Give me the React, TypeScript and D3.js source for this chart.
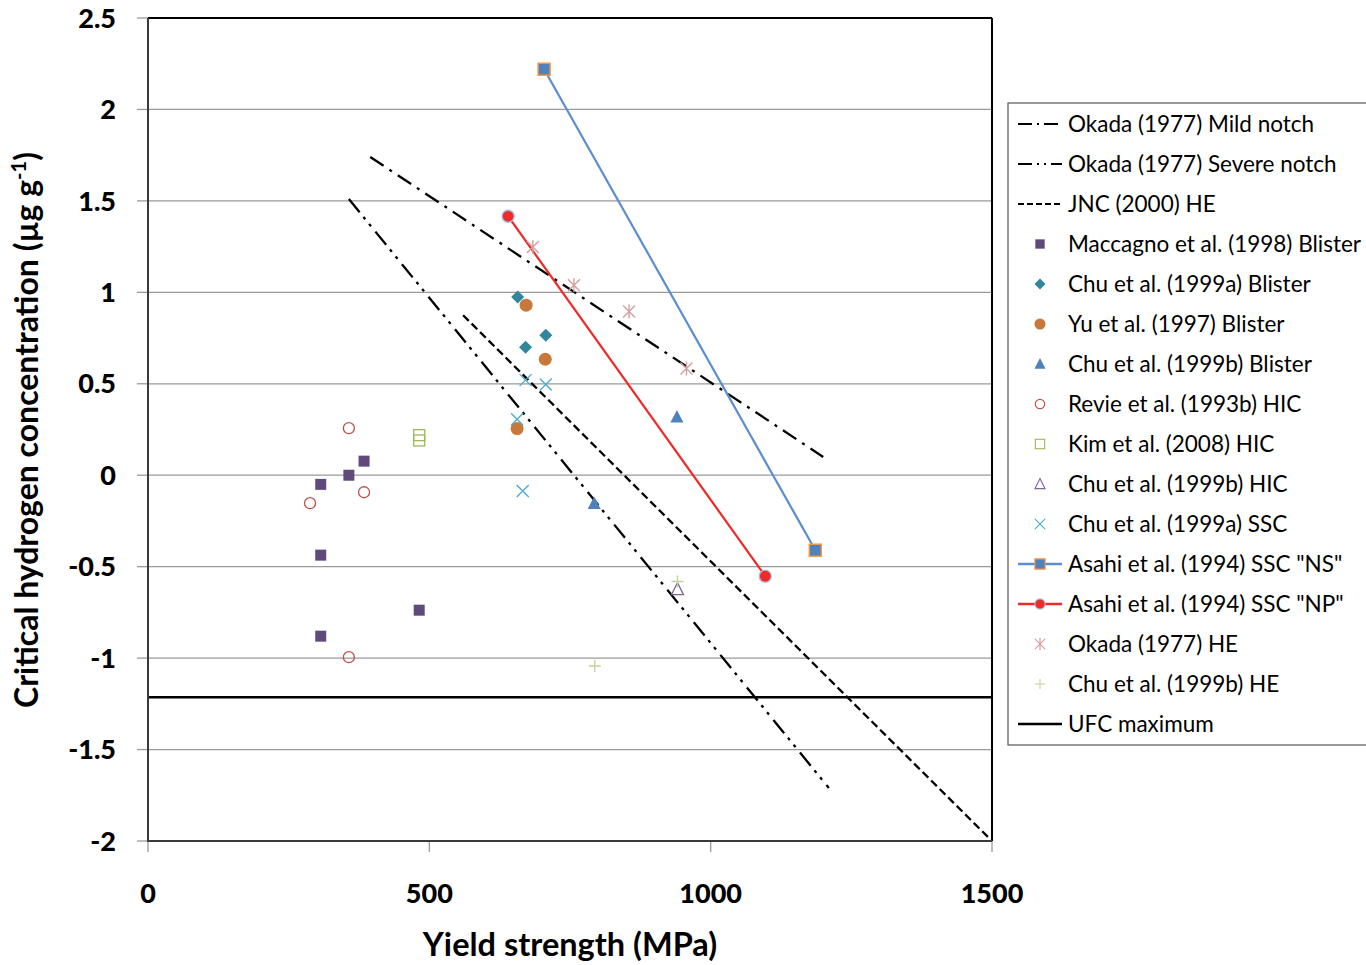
import React from "react";
import * as d3 from "d3";

const W = 1366, H = 965;
const M = { left: 148, top: 18, right: 992, bottom: 841 };

const xTicks = [0, 500, 1000, 1500];
const yTicks = [2.5, 2, 1.5, 1, 0.5, 0, -0.5, -1, -1.5, -2];

const mildNotch: [number, number][] = [[395, 1.74], [1200, 0.10]];
const severeNotch: [number, number][] = [[357, 1.51], [1210, -1.71]];
const jncHE: [number, number][] = [[560, 0.875], [1500, -2.0]];
const ufcMax = -1.214;

const maccagno: [number, number][] = [[307, -0.05], [357, 0.0], [384, 0.077], [307, -0.437], [307, -0.88], [482, -0.738]];
const chuABlister: [number, number][] = [[657, 0.975], [671, 0.70], [707, 0.765]];
const yuBlister: [number, number][] = [[672, 0.93], [706, 0.634], [656, 0.255]];
const chuBBlister: [number, number][] = [[940, 0.319], [793, -0.155]];
const revieHIC: [number, number][] = [[357, 0.257], [288, -0.153], [384, -0.093], [357, -0.995]];
const kimHIC: [number, number][] = [[482, 0.219], [482, 0.19]];
const chuBHIC: [number, number][] = [[941, -0.623]];
const chuASSC: [number, number][] = [[671, 0.52], [707, 0.496], [656, 0.306], [666, -0.086]];
const asahiNS: [number, number][] = [[704, 2.22], [1186, -0.41]];
const asahiNP: [number, number][] = [[640, 1.416], [1097, -0.552]];
const okadaHE: [number, number][] = [[684, 1.248], [757, 1.039], [855, 0.895], [957, 0.583]];
const chuBHE: [number, number][] = [[941, -0.581], [794, -1.043]];

const legendLabels = [
  "Okada (1977) Mild notch",
  "Okada (1977) Severe notch",
  "JNC (2000) HE",
  "Maccagno et al. (1998) Blister",
  "Chu et al. (1999a) Blister",
  "Yu et al. (1997) Blister",
  "Chu et al. (1999b) Blister",
  "Revie et al. (1993b) HIC",
  "Kim et al. (2008) HIC",
  "Chu et al. (1999b) HIC",
  "Chu et al. (1999a) SSC",
  "Asahi et al. (1994) SSC \"NS\"",
  "Asahi et al. (1994) SSC \"NP\"",
  "Okada (1977) HE",
  "Chu et al. (1999b) HE",
  "UFC maximum",
];

const C = {
  purple: "#604A7B",
  teal: "#31859C",
  orange: "#C8783A",
  blue: "#4F81BD",
  red: "#C0504D",
  green: "#9BBB59",
  violet: "#8064A2",
  aqua: "#4BACC6",
  nsLine: "#5A8ED0",
  nsEdge: "#F79646",
  npLine: "#F02828",
  pink: "#D4A0A0",
  lgreen: "#BFD49A",
};

const x = d3.scaleLinear().domain([0, 1500]).range([M.left, M.right]);
const y = d3.scaleLinear().domain([-2, 2.5]).range([M.bottom, M.top]);
const line = d3.line<[number, number]>().x(d => x(d[0])).y(d => y(d[1]));

const FONT = "Lato, 'Noto Sans', sans-serif";

type Kind = "square" | "diamond" | "circle" | "triangle" | "ocircle" | "osquare" | "otriangle" | "cross" | "asterisk" | "plus" | "nsq" | "npc";

function Marker({ kind, cx, cy, s = 1 }: { kind: Kind; cx: number; cy: number; s?: number }) {
  const t = `translate(${cx},${cy}) scale(${s})`;
  switch (kind) {
    case "square":
      return <rect transform={t} x={-5.5} y={-5.5} width={11} height={11} fill={C.purple} />;
    case "diamond":
      return <path transform={t} d="M0,-6.5L6.5,0L0,6.5L-6.5,0Z" fill={C.teal} />;
    case "circle":
      return <circle transform={t} r={6.5} fill={C.orange} />;
    case "triangle":
      return <path transform={t} d="M0,-7L6.5,5.5L-6.5,5.5Z" fill={C.blue} />;
    case "ocircle":
      return <circle transform={t} r={5.5} fill="none" stroke={C.red} strokeWidth={1.3} />;
    case "osquare":
      return <rect transform={t} x={-5.5} y={-5.5} width={11} height={11} fill="none" stroke={C.green} strokeWidth={1.3} />;
    case "otriangle":
      return <path transform={t} d="M0,-6.5L6,5.5L-6,5.5Z" fill="none" stroke={C.violet} strokeWidth={1.3} />;
    case "cross":
      return <path transform={t} d="M-6,-6L6,6M6,-6L-6,6" stroke={C.aqua} strokeWidth={1.3} />;
    case "asterisk":
      return <path transform={t} d="M-6,-6L6,6M6,-6L-6,6M0,-7L0,7" stroke={C.pink} strokeWidth={1.4} />;
    case "plus":
      return <path transform={t} d="M-6,0L6,0M0,-6L0,6" stroke={C.lgreen} strokeWidth={1.3} />;
    case "nsq":
      return <rect transform={t} x={-6} y={-6} width={12} height={12} fill={C.blue} stroke={C.nsEdge} strokeWidth={1.5} />;
    case "npc":
      return <circle transform={t} r={6} fill="#EE2A2A" stroke="#A8B8D8" strokeWidth={1.3} />;
  }
  return null;
}

const scatterSets: { data: [number, number][]; kind: Kind }[] = [
  { data: kimHIC, kind: "osquare" },
  { data: revieHIC, kind: "ocircle" },
  { data: maccagno, kind: "square" },
  { data: chuABlister, kind: "diamond" },
  { data: yuBlister, kind: "circle" },
  { data: chuBBlister, kind: "triangle" },
  { data: chuBHIC, kind: "otriangle" },
  { data: chuASSC, kind: "cross" },
  { data: okadaHE, kind: "asterisk" },
  { data: chuBHE, kind: "plus" },
];

type LegSym = { line?: { stroke: string; dash?: string; w: number }; marker?: Kind };
const legendSyms: LegSym[] = [
  { line: { stroke: "#000", dash: "14,5,2,5", w: 2.2 } },
  { line: { stroke: "#000", dash: "14,5,2,5,2,5", w: 2.2 } },
  { line: { stroke: "#000", dash: "6,3", w: 2.2 } },
  { marker: "square" },
  { marker: "diamond" },
  { marker: "circle" },
  { marker: "triangle" },
  { marker: "ocircle" },
  { marker: "osquare" },
  { marker: "otriangle" },
  { marker: "cross" },
  { line: { stroke: C.nsLine, w: 2.5 }, marker: "nsq" },
  { line: { stroke: C.npLine, w: 2.5 }, marker: "npc" },
  { marker: "asterisk" },
  { marker: "plus" },
  { line: { stroke: "#000", w: 2.5 } },
];

export default function App() {
  const legX = 1008, legY = 103, legW = 370, legH = 642;
  return (
    <svg width={W} height={H} style={{ position: "absolute", left: 0, top: 0, background: "#fff" }} fontFamily={FONT}>
      <rect width={W} height={H} fill="#fff" />
      <defs>
        <clipPath id="plot">
          <rect x={M.left} y={M.top} width={M.right - M.left} height={M.bottom - M.top} />
        </clipPath>
      </defs>
      {/* gridlines */}
      {yTicks.map(t => (
        <line key={"g" + t} x1={M.left} x2={M.right} y1={y(t)} y2={y(t)} stroke="#9A9A9A" strokeWidth={1.3} />
      ))}
      {/* ticks */}
      {yTicks.map(t => (
        <line key={"ty" + t} x1={M.left - 11} x2={M.left} y1={y(t)} y2={y(t)} stroke="#9A9A9A" strokeWidth={1.3} />
      ))}
      {xTicks.map(t => (
        <line key={"tx" + t} x1={x(t)} x2={x(t)} y1={M.bottom} y2={M.bottom + 11} stroke="#9A9A9A" strokeWidth={1.3} />
      ))}
      <g clipPath="url(#plot)">
        <line x1={M.left} x2={M.right} y1={y(ufcMax)} y2={y(ufcMax)} stroke="#000" strokeWidth={2.5} />
        <path d={line(mildNotch) || ""} fill="none" stroke="#000" strokeWidth={2.3} strokeDasharray="16,7,3,7" />
        <path d={line(severeNotch) || ""} fill="none" stroke="#000" strokeWidth={2.3} strokeDasharray="17,6,3,6,3,7" />
        <path d={line(jncHE) || ""} fill="none" stroke="#000" strokeWidth={2.3} strokeDasharray="8,4" />
        <path d={line(asahiNS) || ""} fill="none" stroke={C.nsLine} strokeWidth={2.2} />
        <path d={line(asahiNP) || ""} fill="none" stroke={C.npLine} strokeWidth={2.2} />
        {scatterSets.map((s, i) => (
          <g key={"s" + i}>
            {s.data.map((d, j) => <Marker key={j} kind={s.kind} cx={x(d[0])} cy={y(d[1])} />)}
          </g>
        ))}
        {asahiNS.map((d, j) => <Marker key={"ns" + j} kind="nsq" cx={x(d[0])} cy={y(d[1])} />)}
        {asahiNP.map((d, j) => <Marker key={"np" + j} kind="npc" cx={x(d[0])} cy={y(d[1])} />)}
      </g>
      {/* plot border */}
      <line x1={M.left} x2={M.right} y1={M.top} y2={M.top} stroke="#000" strokeWidth={2} />
      <line x1={M.right} x2={M.right} y1={M.top} y2={M.bottom} stroke="#000" strokeWidth={2} />
      <line x1={M.left} x2={M.left} y1={M.top} y2={M.bottom + 1} stroke="#3a3a3a" strokeWidth={2} />
      <line x1={M.left} x2={M.right} y1={M.bottom} y2={M.bottom} stroke="#3a3a3a" strokeWidth={2} />
      {/* tick labels */}
      {yTicks.map(t => (
        <text key={"yl" + t} x={116} y={y(t)} dy="0.36em" textAnchor="end" fontSize={27} fontWeight="900">{String(t)}</text>
      ))}
      {xTicks.map(t => (
        <text key={"xl" + t} x={x(t)} y={893} dy="0.36em" textAnchor="middle" fontSize={27} fontWeight="900">{String(t)}</text>
      ))}
      {/* axis titles */}
      <text x={570} y={956} textAnchor="middle" fontSize={32.5} fontWeight="bold">Yield strength (MPa)</text>
      <text transform="translate(38,430) rotate(-90)" textAnchor="middle" fontSize={32} fontWeight="bold">
        Critical hydrogen concentration (µg g<tspan dy={-12} fontSize={20}>-1</tspan><tspan dy={12}>)</tspan>
      </text>
      {/* legend */}
      <rect x={legX} y={legY} width={legW} height={legH} fill="#fff" stroke="#555" strokeWidth={1.2} />
      {legendLabels.map((lab, i) => {
        const cy = 124 + 40 * i;
        const sym = legendSyms[i];
        return (
          <g key={"l" + i}>
            {sym.line && (
              <line x1={1018} x2={1062} y1={cy} y2={cy} stroke={sym.line.stroke} strokeWidth={sym.line.w} strokeDasharray={sym.line.dash} />
            )}
            {sym.marker && <Marker kind={sym.marker} cx={1040} cy={cy} s={0.85} />}
            <text x={1068} y={cy} dy="0.36em" fontSize={22.5}>{lab}</text>
          </g>
        );
      })}
    </svg>
  );
}
